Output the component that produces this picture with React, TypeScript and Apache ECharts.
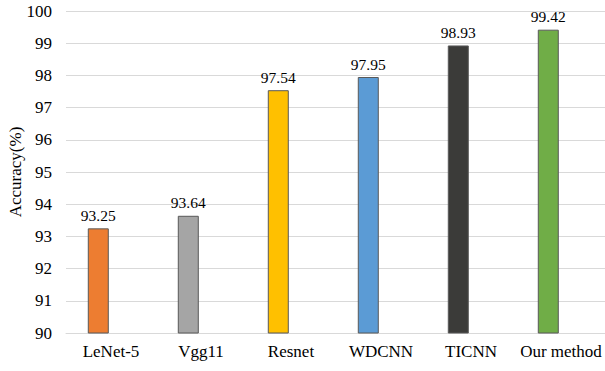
import React, { useEffect, useRef } from "react";
import * as echarts from "echarts";

const categories = ["LeNet-5", "Vgg11", "Resnet", "WDCNN", "TICNN", "Our method"];
const accuracy = [93.25, 93.64, 97.54, 97.95, 98.93, 99.42];
const barColors = ["#ED7D31", "#A5A5A5", "#FFC000", "#5B9BD5", "#3B3B39", "#70AD47"];
const yTicks = [90, 91, 92, 93, 94, 95, 96, 97, 98, 99, 100];

const FONT = "Liberation Serif";

export default function App() {
  const ref = useRef<HTMLDivElement>(null);

  useEffect(() => {
    if (!ref.current) return;
    const chart = echarts.init(ref.current, undefined, { renderer: "svg" });
    chart.setOption({
      animation: false,
      backgroundColor: "#ffffff",
      textStyle: { fontFamily: FONT },
      grid: {
        left: 66,
        right: -1,
        top: 11,
        bottom: 38,
        containLabel: false,
        outerBoundsMode: "none",
      },
      xAxis: {
        type: "category",
        data: categories,
        axisLine: { show: true, lineStyle: { color: "#D9D9D9", width: 1 } },
        axisTick: { show: false },
        axisLabel: { color: "#000", fontFamily: FONT, fontSize: 17, margin: 10, interval: 0 },
      },
      yAxis: {
        type: "value",
        min: yTicks[0],
        max: yTicks[yTicks.length - 1],
        interval: 1,
        name: "Accuracy(%)",
        nameLocation: "middle",
        nameGap: 42,
        nameMoveOverlap: false,
        nameTextStyle: { color: "#000", fontFamily: FONT, fontSize: 17 },
        axisLine: { show: false },
        axisTick: { show: false },
        axisLabel: { color: "#000", fontFamily: FONT, fontSize: 17, margin: 14 },
        splitLine: { lineStyle: { color: "#D9D9D9", width: 1 } },
      },
      series: [
        {
          type: "bar",
          barWidth: 21,
          barGap: "21%",
          data: accuracy.map((v, i) => ({
            value: v,
            itemStyle: { color: barColors[i], borderColor: "#595959", borderWidth: 1 },
          })),
          label: {
            show: true,
            position: "top",
            distance: 5,
            color: "#000",
            fontFamily: FONT,
            fontSize: 15.5,
            formatter: (p: any) => p.value.toFixed(2),
          },
        },
        {
          // empty companion series keeps each bar left of its category centre
          type: "bar",
          barWidth: 21,
          data: categories.map(() => "-"),
        },
      ],
    });
    return () => chart.dispose();
  }, []);

  return <div ref={ref} style={{ width: 605, height: 371, position: "absolute", left: 0, top: 0 }} />;
}
